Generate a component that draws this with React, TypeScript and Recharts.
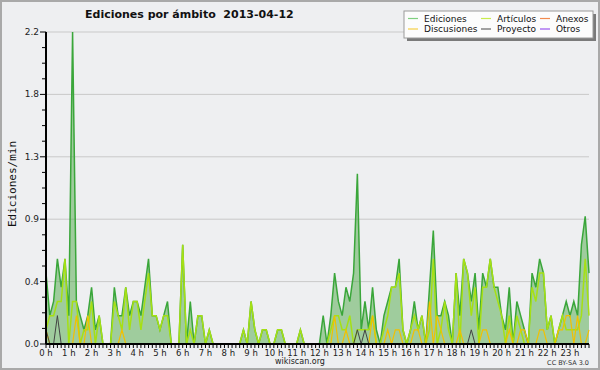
// Ediciones por ámbito — area + lines per 10-minute slot, one day
import { ComposedChart, Area, Line, XAxis, YAxis, CartesianGrid } from "recharts";

// one value per 10-minute slot, 0 h .. 23 h 50
const ediciones = [
  0.5, 0.2, 0.3, 0.6, 0.4, 0.6, 0.2, 2.2, 0.3, 0.2, 0.1, 0.2,
  0.4, 0.1, 0.2, 0, 0, 0, 0.4, 0.2, 0.2, 0.4, 0.2, 0.3,
  0.3, 0.2, 0.4, 0.6, 0.2, 0.2, 0.1, 0.2, 0.3, 0, 0, 0,
  0.7, 0, 0.3, 0, 0.2, 0.2, 0, 0.1, 0, 0, 0, 0,
  0, 0, 0, 0, 0.1, 0, 0.3, 0.1, 0, 0.1, 0.1, 0,
  0, 0.1, 0.1, 0, 0, 0, 0, 0.1, 0, 0, 0, 0,
  0, 0.2, 0, 0.2, 0.5, 0.3, 0.2, 0.4, 0.3, 0.5, 1.2, 0.1,
  0.3, 0.1, 0.4, 0.1, 0, 0.2, 0.3, 0.4, 0.4, 0.6, 0.1, 0,
  0.1, 0.3, 0.1, 0.2, 0, 0.4, 0.8, 0.2, 0.2, 0.3, 0.2, 0,
  0.5, 0.2, 0.6, 0.5, 0.3, 0.5, 0.1, 0.5, 0.4, 0.6, 0.4, 0.4,
  0.2, 0.1, 0.4, 0, 0.3, 0.2, 0.1, 0, 0.5, 0.4, 0.6, 0.5,
  0.1, 0.2, 0, 0.1, 0.2, 0.3, 0.2, 0.3, 0.2, 0.7, 0.9, 0.5,
];

const articulos = [
  0.1, 0.2, 0.2, 0.3, 0.3, 0.6, 0, 0.3, 0.3, 0, 0.1, 0.1,
  0.3, 0, 0.2, 0, 0, 0, 0.3, 0.2, 0.1, 0.4, 0.1, 0.3,
  0.3, 0.1, 0.3, 0.5, 0.2, 0.2, 0.1, 0.2, 0.2, 0, 0, 0,
  0.7, 0, 0.1, 0, 0.2, 0.2, 0, 0.1, 0, 0, 0, 0,
  0, 0, 0, 0, 0.1, 0, 0.3, 0.1, 0, 0.1, 0.1, 0,
  0, 0.1, 0.1, 0, 0, 0, 0, 0.1, 0, 0, 0, 0,
  0, 0, 0, 0.1, 0.2, 0.2, 0.1, 0.1, 0.2, 0, 0.1, 0.1,
  0.1, 0.1, 0.2, 0, 0, 0.1, 0.2, 0.4, 0.4, 0.5, 0.1, 0,
  0.1, 0.2, 0.1, 0.2, 0, 0.1, 0.6, 0, 0.1, 0.3, 0.1, 0,
  0.5, 0, 0.6, 0.5, 0.2, 0.4, 0, 0.4, 0.4, 0.6, 0.4, 0.3,
  0.2, 0, 0.2, 0, 0.2, 0.1, 0, 0, 0.4, 0.3, 0.5, 0.5,
  0.1, 0.2, 0, 0.1, 0.2, 0.1, 0.1, 0.1, 0.1, 0.2, 0.6, 0.2,
];

const discusiones = [
  0.1, 0, 0, 0, 0, 0, 0, 0, 0.2, 0, 0, 0.2,
  0, 0, 0, 0, 0, 0, 0, 0, 0.1, 0, 0, 0,
  0, 0, 0, 0, 0, 0, 0, 0, 0, 0, 0, 0,
  0, 0, 0, 0, 0, 0, 0, 0, 0, 0, 0, 0,
  0, 0, 0, 0, 0, 0, 0, 0, 0, 0, 0, 0,
  0, 0, 0, 0, 0, 0, 0, 0, 0, 0, 0, 0,
  0, 0, 0, 0, 0.2, 0, 0, 0.1, 0, 0, 0, 0,
  0, 0, 0.2, 0, 0, 0, 0.1, 0, 0.1, 0.1, 0, 0,
  0, 0.1, 0.1, 0, 0, 0.3, 0, 0.2, 0.1, 0, 0, 0,
  0, 0.1, 0, 0, 0, 0, 0, 0.1, 0.1, 0, 0, 0,
  0, 0, 0.1, 0, 0, 0.1, 0.1, 0, 0, 0, 0.1, 0.1,
  0, 0, 0, 0.1, 0.1, 0.2, 0.2, 0, 0.2, 0, 0, 0.1,
];

const proyecto = [
  0.1, 0, 0, 0.2, 0, 0, 0, 0, 0, 0, 0, 0,
  0, 0, 0, 0, 0, 0, 0, 0, 0, 0, 0, 0,
  0, 0, 0, 0, 0, 0, 0, 0, 0, 0, 0, 0,
  0, 0, 0, 0, 0, 0, 0, 0, 0, 0, 0, 0,
  0, 0, 0, 0, 0, 0, 0, 0, 0, 0, 0, 0,
  0, 0, 0, 0, 0, 0, 0, 0, 0, 0, 0, 0,
  0, 0, 0, 0, 0, 0, 0, 0, 0, 0, 0.1, 0,
  0.1, 0, 0, 0, 0, 0, 0, 0, 0, 0, 0, 0,
  0, 0, 0, 0, 0, 0, 0, 0, 0, 0, 0, 0,
  0, 0, 0, 0, 0.1, 0, 0, 0, 0, 0, 0, 0,
  0, 0, 0, 0, 0, 0, 0, 0, 0, 0, 0, 0,
  0, 0, 0, 0, 0, 0, 0, 0, 0, 0, 0, 0,
];

const hourLabels = [
  "0 h", "1 h", "2 h", "3 h", "4 h", "5 h", "6 h", "7 h", "8 h", "9 h", "10 h", "11 h",
  "12 h", "13 h", "14 h", "15 h", "16 h", "17 h", "18 h", "19 h", "20 h", "21 h", "22 h", "23 h",
];

const yTicks = [
  0, 0.11, 0.22, 0.33, 0.44, 0.55, 0.66, 0.77, 0.88, 0.99, 1.1,
  1.21, 1.32, 1.43, 1.54, 1.65, 1.76, 1.87, 1.98, 2.09, 2.2,
];
const yMajor = [0, 0.44, 0.88, 1.32, 1.76, 2.2];
const yMajorLabels = ["0.0", "0.4", "0.9", "1.3", "1.8", "2.2"];

const legendItems = [
  { name: "Ediciones", color: "#7fcf7f" },
  { name: "Artículos", color: "#c8ec4c" },
  { name: "Anexos", color: "#f28a4e" },
  { name: "Discusiones", color: "#f5cf45" },
  { name: "Proyecto", color: "#666666" },
  { name: "Otros", color: "#9a55ee" },
];

const data = ediciones.map((v, i) => ({
  i,
  ediciones: v,
  articulos: articulos[i],
  discusiones: discusiones[i],
  proyecto: proyecto[i],
}));
const xTicks = data.map((d) => d.i);

const FONT = "'DejaVu Sans', sans-serif";

function YTick({ x, y, payload }: any) {
  const k = yMajor.findIndex((m) => Math.abs(m - payload.value) < 0.001);
  const major = k >= 0;
  return (
    <g>
      <line x1={x - (major ? 6 : 4)} x2={x} y1={y} y2={y} stroke="#000" />
      {major && (
        <text x={x - 7} y={y} dy={3} textAnchor="end" fontSize={9} fontFamily={FONT} fill="#222">
          {yMajorLabels[k]}
        </text>
      )}
    </g>
  );
}

function XTick({ x, y, payload }: any) {
  const v = payload.value;
  const hour = v % 6 === 0;
  return (
    <g>
      <line x1={x} x2={x} y1={y} y2={y + 4} stroke="#000" />
      {hour && (
        <text x={x} y={y + 12} textAnchor="middle" fontSize={8.5} fontFamily={FONT} fill="#222">
          {hourLabels[v / 6]}
        </text>
      )}
    </g>
  );
}

export default function App() {
  return (
    <div style={{ position: "absolute", left: 0, top: 0, width: 600, height: 370, background: "#eeeff1" }}>
      <ComposedChart width={600} height={370} data={data} margin={{ top: 32, right: 11, bottom: 0, left: 0 }}>
        <CartesianGrid vertical={false} horizontalValues={yMajor.slice(1)} stroke="#c9c9c9" />
        <Area
          type="linear"
          dataKey="ediciones"
          stroke="#3aa63a"
          strokeWidth={1.5}
          fill="#4faa4a"
          fillOpacity={0.5}
          isAnimationActive={false}
          dot={false}
          activeDot={false}
        />
        <Line type="linear" dataKey="articulos" stroke="#a6e014" strokeWidth={1.5} dot={false} isAnimationActive={false} />
        <Line type="linear" dataKey="discusiones" stroke="#f2c000" strokeWidth={1.2} dot={false} isAnimationActive={false} />
        <Line type="linear" dataKey="proyecto" stroke="#444444" strokeWidth={1} dot={false} isAnimationActive={false} />
        <XAxis
          type="number"
          dataKey="i"
          domain={[0, 143]}
          ticks={xTicks}
          interval={0}
          tick={<XTick />}
          tickLine={false}
          tickSize={0}
          tickMargin={0}
          height={26}
          axisLine={{ stroke: "#000", strokeWidth: 2 }}
        />
        <YAxis
          type="number"
          domain={[0, 2.2]}
          ticks={yTicks}
          interval={0}
          tick={<YTick />}
          tickLine={false}
          tickSize={0}
          tickMargin={0}
          width={46}
          axisLine={{ stroke: "#000", strokeWidth: 2 }}
        />
      </ComposedChart>

      <svg width={600} height={370} style={{ position: "absolute", left: 0, top: 0, pointerEvents: "none" }}>
        <rect x={1} y={1} width={598} height={368} fill="none" stroke="#a9a9a9" strokeWidth={2} />
        <text x={85} y={18} fontSize={11} fontWeight="bold" fontFamily={FONT} fill="#111" xmlSpace="preserve">
          Ediciones por ámbito  2013-04-12
        </text>
        <text
          transform="translate(16 184) rotate(-90)"
          textAnchor="middle"
          fontSize={11}
          fontFamily="'DejaVu Sans Mono', monospace"
          fill="#111"
        >
          Ediciones/min
        </text>
        <text x={300} y={364} textAnchor="middle" fontSize={8} fontFamily={FONT} fill="#222">
          wikiscan.org
        </text>
        <text x={589} y={365} textAnchor="end" fontSize={6.5} fontFamily={FONT} fill="#333">
          CC BY-SA 3.0
        </text>

        <rect x={407} y={14} width={189} height={27} fill="#7a7a7a" />
        <rect x={404} y={11} width={189} height={27} fill="#fcfcfc" stroke="#9a9a9a" />
        {legendItems.map((it, k) => {
          const col = k % 3;
          const row = Math.floor(k / 3);
          const sx = [408, 481, 540][col];
          const cy = row === 0 ? 18.5 : 29;
          return (
            <g key={it.name}>
              <line x1={sx} x2={sx + 10} y1={cy} y2={cy} stroke={it.color} strokeWidth={1.2} />
              <text x={sx + 16} y={cy + 3} fontSize={9} fontFamily={FONT} fill="#111">
                {it.name}
              </text>
            </g>
          );
        })}
      </svg>
    </div>
  );
}
